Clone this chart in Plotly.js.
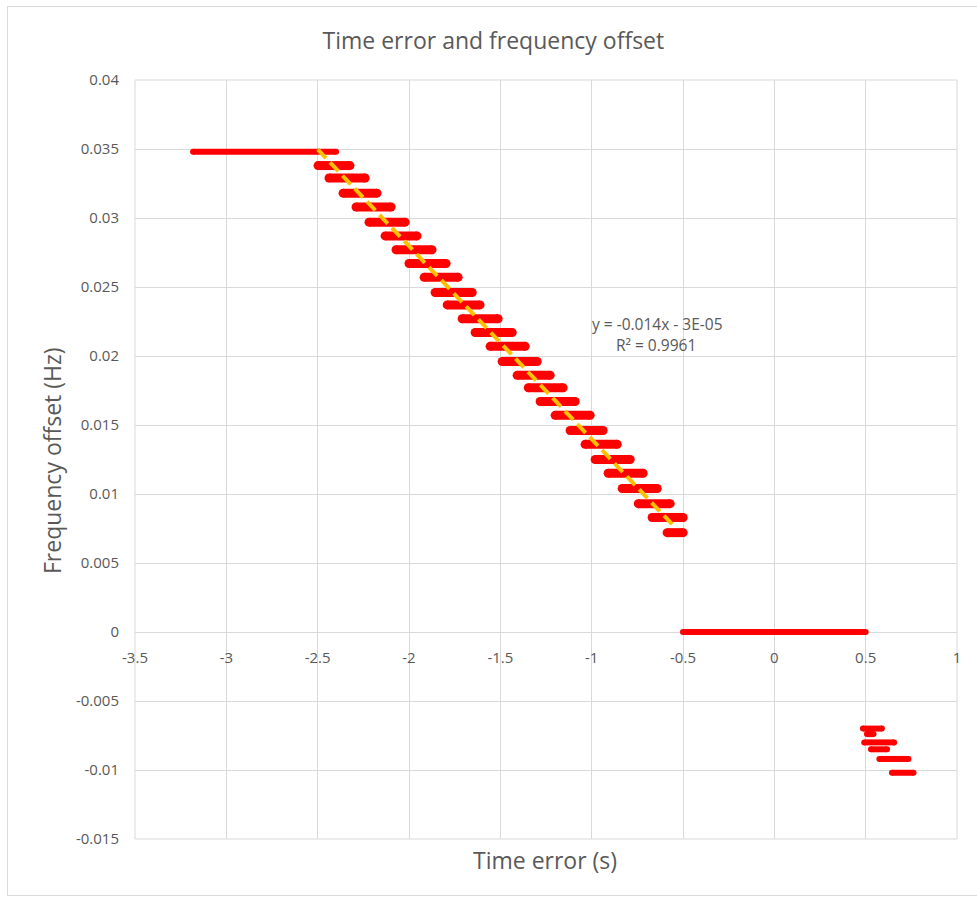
<!DOCTYPE html>
<html>
<head>
<meta charset="utf-8">
<script src="https://cdn.plot.ly/plotly-3.0.1.min.js"></script>
<style>
  html, body { margin: 0; padding: 0; background: #ffffff; }
  #chart { position: absolute; left: 0; top: 0; width: 977px; height: 899px; z-index: 1; }
  #frame { position: absolute; left: 7px; top: 6px; width: 990px; height: 890px; border: 1px solid #d9d9d9; box-sizing: border-box; z-index: 2; pointer-events: none; }
</style>
</head>
<body>
<div id="chart"></div>
<div id="frame"></div>
<script>
// ---- Data ----
// Flat leading segment (frequency offset held at max)
const topY = [0.0348];
const topXStart = [-3.182];
const topXEnd = [-2.399];

// Staircase bands (each band: frequency level, time-error start, time-error end)
const bandY = [0.0338, 0.0329, 0.0318, 0.0308, 0.0297, 0.0287, 0.0277, 0.0267, 0.0257,
               0.0246, 0.0237, 0.0227, 0.0217, 0.0207, 0.0196, 0.0186, 0.0177, 0.0167,
               0.0157, 0.0146, 0.0136, 0.0125, 0.0115, 0.0104, 0.0093, 0.0083, 0.0072];
const bandXStart = [-2.498, -2.438, -2.361, -2.290, -2.219, -2.131, -2.071, -2.000, -1.917,
                    -1.857, -1.791, -1.709, -1.638, -1.556, -1.490, -1.408, -1.347, -1.282,
                    -1.200, -1.118, -1.036, -0.981, -0.910, -0.833, -0.745, -0.669, -0.587];
const bandXEnd = [-2.323, -2.240, -2.175, -2.098, -2.021, -1.956, -1.874, -1.797, -1.731,
                  -1.654, -1.611, -1.512, -1.435, -1.364, -1.298, -1.227, -1.156, -1.090,
                  -1.008, -0.937, -0.860, -0.789, -0.718, -0.641, -0.570, -0.499, -0.499];

// Dead band around zero
const zeroY = [0];
const zeroXStart = [-0.5];
const zeroXEnd = [0.5];

// Negative-offset steps at positive time error
const lowY = [-0.0070, -0.0074, -0.0080, -0.0085, -0.0092, -0.0102];
const lowXStart = [0.485, 0.507, 0.492, 0.529, 0.575, 0.644];
const lowXEnd = [0.589, 0.543, 0.656, 0.617, 0.734, 0.762];

// Linear trendline (from the reference's equation) over the staircase range
const trendSlope = -0.014;
const trendIntercept = -0.00003;
const trendX = [-2.50, -0.56];

// Tick labels
const xTickVals = [-3.5, -3, -2.5, -2, -1.5, -1, -0.5, 0, 0.5, 1];
const xTickText = ["-3.5", "-3", "-2.5", "-2", "-1.5", "-1", "-0.5", "0", "0.5", "1"];
const yTickVals = [0.04, 0.035, 0.03, 0.025, 0.02, 0.015, 0.01, 0.005, 0, -0.005, -0.01, -0.015];
const yTickText = ["0.04", "0.035", "0.03", "0.025", "0.02", "0.015", "0.01", "0.005", "0", "-0.005", "-0.01", "-0.015"];

// ---- Build segment traces ----
function segs(ys, xs0, xs1) {
  const x = [], y = [];
  for (let i = 0; i < ys.length; i++) {
    x.push(xs0[i], xs1[i], null);
    y.push(ys[i], ys[i], null);
  }
  return {x, y};
}
const RED = '#ff0000';
function redTrace(d, w) {
  return {
    type: 'scatter', mode: 'lines+markers', x: d.x, y: d.y,
    line: {color: RED, width: w}, marker: {color: RED, size: w},
    connectgaps: false, hoverinfo: 'skip', showlegend: false
  };
}
const tTop = redTrace(segs(topY, topXStart, topXEnd), 6);
const tBands = redTrace(segs(bandY, bandXStart, bandXEnd), 9);
const tZero = redTrace(segs(zeroY, zeroXStart, zeroXEnd), 6);
const tLow = redTrace(segs(lowY, lowXStart, lowXEnd), 6);
const tTrend = {
  type: 'scatter', mode: 'lines',
  x: trendX, y: trendX.map(v => trendSlope * v + trendIntercept),
  line: {color: '#ffc000', width: 4, dash: '12px,6px'},
  hoverinfo: 'skip', showlegend: false
};

const FONT = 'Open Sans, Noto Sans, sans-serif';
const GREY = '#595959';
const GRID = '#d9d9d9';

const layout = {
  width: 977, height: 899,
  margin: {l: 135, r: 20, t: 80, b: 60},
  paper_bgcolor: '#ffffff', plot_bgcolor: '#ffffff',
  font: {family: FONT, color: GREY},
  title: {text: 'Time error and frequency offset', font: {family: FONT, size: 23, color: GREY},
          x: 0.505, xanchor: 'center', y: 0.955, yanchor: 'middle'},
  xaxis: {
    range: [-3.5, 1], tickvals: xTickVals, ticktext: xTickText,
    showgrid: true, gridcolor: GRID, gridwidth: 1, zeroline: false, showline: false,
    ticks: '', anchor: 'free', position: 0.2727, ticklabelstandoff: 15,
    tickfont: {family: FONT, size: 15, color: GREY}
  },
  yaxis: {
    range: [-0.015, 0.04], tickvals: yTickVals, ticktext: yTickText,
    showgrid: true, gridcolor: GRID, gridwidth: 1, zeroline: false, showline: false,
    ticks: '', ticklabelstandoff: 15,
    tickfont: {family: FONT, size: 15, color: GREY}
  },
  shapes: [{type: 'rect', xref: 'paper', yref: 'paper', x0: 0, x1: 1, y0: 0, y1: 1,
            line: {color: GRID, width: 1}, layer: 'below'}],
  annotations: [
    {xref: 'paper', yref: 'paper', x: 0.499, y: -0.0277, xanchor: 'center', yanchor: 'middle',
     text: 'Time error (s)', showarrow: false, font: {family: FONT, size: 23, color: GREY}},
    {xref: 'paper', yref: 'paper', x: -0.101, y: 0.4993, xanchor: 'center', yanchor: 'middle',
     textangle: -90, text: 'Frequency offset (Hz)', showarrow: false,
     font: {family: FONT, size: 23, color: GREY}},
    {xref: 'x', yref: 'y', x: -0.641, y: 0.02232, text: 'y = -0.014x - 3E-05', showarrow: false,
     font: {family: FONT, size: 15.5, color: GREY}},
    {xref: 'x', yref: 'y', x: -0.647, y: 0.0208, text: 'R² = 0.9961', showarrow: false,
     font: {family: FONT, size: 15.5, color: GREY}}
  ]
};

Plotly.newPlot('chart', [tTop, tBands, tZero, tLow, tTrend], layout, {displayModeBar: false, staticPlot: true});
</script>
</body>
</html>
